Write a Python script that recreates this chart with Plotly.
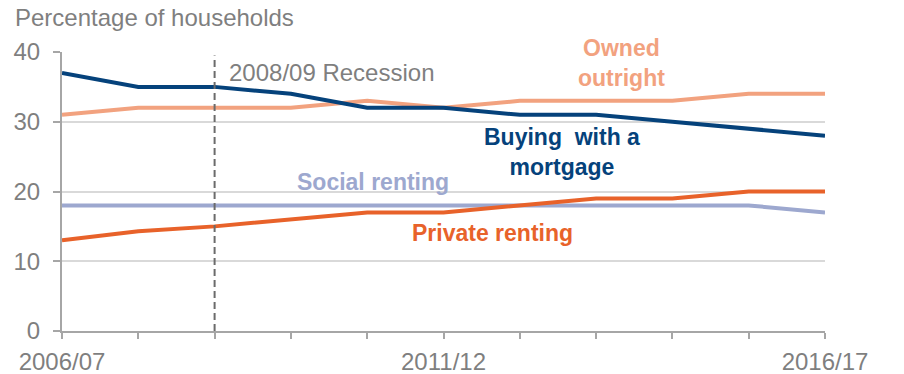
import plotly.graph_objects as go

# Survey years (one point per year) and the axis labels shown under them
years = ["2006/07", "2007/08", "2008/09", "2009/10", "2010/11", "2011/12",
         "2012/13", "2013/14", "2014/15", "2015/16", "2016/17"]
tick_labels = ["2006/07", "", "", "", "", "2011/12", "", "", "", "", "2016/17"]

# Percentage of households by tenure
owned_outright = [31, 32, 32, 32, 33, 32, 33, 33, 33, 34, 34]
buying_mortgage = [37, 35, 35, 34, 32, 32, 31, 31, 30, 29, 28]
social_renting = [18, 18, 18, 18, 18, 18, 18, 18, 18, 18, 17]
private_renting = [13, 14.3, 15, 16, 17, 17, 18, 19, 19, 20, 20]

recession_year = "2008/09"

FONT = "Liberation Sans, Arial, sans-serif"
GREY = "#7F7F7F"
C_OWNED = "#F2A27F"
C_MORT = "#05427B"
C_SOCIAL = "#9DA8CF"
C_PRIVATE = "#E8622A"

xs = list(range(len(years)))

fig = go.Figure()
for vals, col in [(owned_outright, C_OWNED), (social_renting, C_SOCIAL),
                  (private_renting, C_PRIVATE), (buying_mortgage, C_MORT)]:
    fig.add_trace(go.Scatter(x=xs, y=vals, mode="lines",
                             line=dict(color=col, width=4),
                             hoverinfo="skip", showlegend=False))

# Recession marker
rx = years.index(recession_year)
fig.add_shape(type="line", xref="x", yref="y", x0=rx, x1=rx, y0=0, y1=39.5,
              line=dict(color="#6B6B6B", width=2, dash="7px,4px"), layer="above")

annotations = [
    dict(x=rx + 0.16, y=37.1, text="2008/09 Recession", xanchor="left",
         font=dict(size=24, color=GREY)),
    dict(x=7.33, y=38.4, text="<b>Owned<br>outright</b>",
         font=dict(size=23, color=C_OWNED)),
    dict(x=6.55, y=25.7, text="<b>Buying\u00a0 with a<br>mortgage</b>",
         font=dict(size=23, color=C_MORT)),
    dict(x=4.08, y=21.4, text="<b>Social renting</b>",
         font=dict(size=23, color=C_SOCIAL)),
    dict(x=5.64, y=14.0, text="<b>Private renting</b>",
         font=dict(size=23, color=C_PRIVATE)),
]

# End-of-series value labels
end_labels = [(owned_outright[-1], 34.3, C_OWNED),
              (buying_mortgage[-1], 27.5, C_MORT),
              (private_renting[-1], 20.5, C_PRIVATE),
              (social_renting[-1], 15.3, C_SOCIAL)]
for v, ypos, col in end_labels:
    annotations.append(dict(x=10.36, y=ypos, text=f"<b>{v:g}%</b>", xanchor="left",
                            font=dict(size=23, color=col)))

for a in annotations:
    a.update(xref="x", yref="y", showarrow=False, yanchor="middle")
    a.setdefault("xanchor", "center")

annotations.append(dict(xref="paper", yref="paper", x=(13 - 62) / 763, y=1 + (52 - 18) / 279,
                        xanchor="left", yanchor="middle", showarrow=False,
                        text="Percentage of households",
                        font=dict(size=24, color=GREY)))

fig.update_layout(
    width=904, height=374,
    margin=dict(l=62, r=79, t=52, b=43),
    paper_bgcolor="white", plot_bgcolor="white",
    font=dict(family=FONT, color=GREY, size=24),
    annotations=annotations,
    xaxis=dict(range=[0, 10], tickmode="array", tickvals=xs, ticktext=tick_labels,
               showgrid=False, zeroline=False, showline=True, linecolor="#A6A6A6",
               linewidth=2, ticks="outside", ticklen=6, tickwidth=1.5,
               tickcolor="#A6A6A6", ticklabelstandoff=2, automargin=False,
               tickfont=dict(size=24, color=GREY, family=FONT)),
    yaxis=dict(range=[0, 40], tickvals=[0, 10, 20, 30, 40],
               showgrid=True, gridcolor="#D9D9D9", gridwidth=1.5,
               zeroline=False, showline=True, linecolor="#A6A6A6", linewidth=2,
               ticks="outside", ticklen=7, tickwidth=1.5, tickcolor="#A6A6A6",
               ticklabelstandoff=8, automargin=False,
               tickfont=dict(size=24, color=GREY, family=FONT)),
)

fig.write_html("out.html")
